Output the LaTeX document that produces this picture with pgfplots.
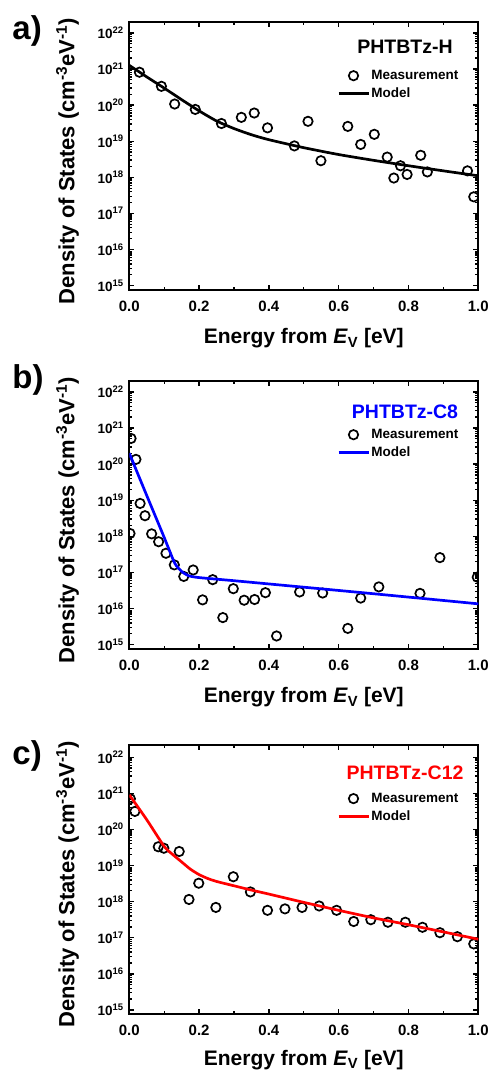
\documentclass[border=0pt]{standalone}
\usepackage{fontspec}
\setmainfont{Liberation Sans}
\usepackage{pgfplots}
\pgfplotsset{compat=1.18}
\definecolor{mblue}{RGB}{0,0,255}
\definecolor{mred}{RGB}{255,0,0}
\newcommand{\ep}[1]{10\raisebox{5.5pt}{\fontsize{9.5}{10}\selectfont #1}}
\pgfplotsset{
  legend image code/.code={\draw[mark repeat=2,mark phase=2,#1] plot coordinates {(0pt,0pt) (15pt,0pt) (30pt,0pt)};},
}
\pgfplotsset{
  dosaxis/.style={
    scale only axis, width=349pt, height=268pt,
    xmin=0, xmax=1, ymin=7.59e14, ymax=2.0e22,
    xtick={0,0.2,0.4,0.6,0.8,1.0},
    xticklabels={0.0,0.2,0.4,0.6,0.8,1.0},
    minor xtick={0.1,0.3,0.5,0.7,0.9},
    ytick={1e15,1e16,1e17,1e18,1e19,1e20,1e21,1e22},
    yticklabels={\ep{15},\ep{16},\ep{17},\ep{18},\ep{19},\ep{20},\ep{21},\ep{22}},
    tick align=inside, xtick pos=both, ytick pos=both,
    xticklabel pos=bottom, yticklabel pos=left,
    major tick length=5pt, minor tick length=3pt,
    every tick/.style={line width=1.3pt, black},
    axis line style={line width=2pt},
    xticklabel style={font=\bfseries\fontsize{15}{15}\selectfont, anchor=north, inner sep=0pt, yshift=-10.5pt},
    yticklabel style={font=\bfseries\fontsize{13.5}{14}\selectfont, anchor=east, inner sep=0pt, xshift=-6pt},
    clip marker paths=true,
    xlabel={Energy from \textit{E}\textsubscript{V} [eV]},
    ylabel={Density of States (cm\textsuperscript{-3}eV\textsuperscript{-1})},
    every axis x label/.style={at={(rel axis cs:0.5,0)}, anchor=base, yshift=-54pt, font=\bfseries\fontsize{21}{21}\selectfont},
    every axis y label/.style={at={(rel axis cs:0,0.481)}, xshift=-55pt, rotate=90, anchor=base, font=\bfseries\fontsize{22}{22}\selectfont},
    legend style={draw=none, fill=none, at={(rel axis cs:0.595,0.826)}, anchor=north west,
      font=\bfseries\fontsize{13.5}{15}\selectfont, row sep=4pt, inner sep=0pt,
      nodes={inner sep=1.5pt}},
    legend cell align=left,
  },
  meas/.style={only marks, mark=o, mark size=4.7pt, mark options={line width=1.7pt, black}},
  model/.style={line width=2.7pt, smooth, tension=0.4, no marks},
}
\begin{document}
\begin{tikzpicture}
\useasboundingbox (0,0) rectangle (493pt,1071pt);
% ---------- a ----------
\begin{axis}[ymode=log, dosaxis, name=axA, at={(129.3pt,781pt)}, anchor=south west]
\addplot[meas] coordinates {(0.029,8.13e20)(0.092,3.31e20)(0.130,1.07e20)(0.189,7.59e19)(0.264,3.09e19)(0.321,4.57e19)(0.358,6.03e19)(0.396,2.34e19)(0.473,7.41e18)(0.512,3.55e19)(0.549,2.88e18)(0.626,2.57e19)(0.663,8.13e18)(0.702,1.55e19)(0.739,3.63e18)(0.758,9.55e17)(0.777,2.09e18)(0.796,1.20e18)(0.835,4.07e18)(0.854,1.41e18)(0.969,1.51e18)(0.987,2.88e17)};
\addlegendentry{Measurement}
\addplot[model, black] coordinates {(0,1.26e21)(0.05,6.03e20)(0.1,2.95e20)(0.15,1.41e20)(0.2,6.92e19)(0.25,3.63e19)(0.3,2.24e19)(0.35,1.51e19)(0.4,1.10e19)(0.5,6.61e18)(0.6,4.27e18)(0.7,2.95e18)(0.8,2.09e18)(0.9,1.51e18)(1.0,1.10e18)};
\addlegendentry{Model}
\node[anchor=base, font=\bfseries\fontsize{19.5}{20}\selectfont] at (rel axis cs:0.79,0.883) {PHTBTz-H};
\end{axis}
\node[anchor=base west, font=\bfseries\fontsize{33}{33}\selectfont, inner sep=0pt, xshift=-117pt, yshift=-17.8pt] at (axA.north west) {a)};
% ---------- b ----------
\begin{axis}[ymode=log, dosaxis, name=axB, at={(129.3pt,422pt)}, anchor=south west]
\addplot[meas] coordinates {(0.005,5.13e20)(0.019,1.35e20)(0.002,1.20e18)(0.031,8.13e18)(0.045,3.72e18)(0.064,1.17e18)(0.084,7.08e17)(0.105,3.39e17)(0.129,1.62e17)(0.156,7.76e16)(0.183,1.17e17)(0.210,1.74e16)(0.239,6.31e16)(0.268,5.62e15)(0.298,3.55e16)(0.329,1.70e16)(0.359,1.78e16)(0.390,2.75e16)(0.422,1.74e15)(0.488,2.88e16)(0.554,2.69e16)(0.626,2.82e15)(0.663,1.95e16)(0.715,3.98e16)(0.833,2.63e16)(0.890,2.57e17)(0.997,7.41e16)};
\addlegendentry{Measurement}
\addplot[model, mblue] coordinates {(0,2.0e20)(0.05,1.35e19)(0.10,9.3e17)(0.13,1.82e17)(0.15,1.07e17)(0.17,8.1e16)(0.20,7.2e16)(0.3,5.9e16)(0.5,3.9e16)(0.7,2.57e16)(1.0,1.35e16)};
\addlegendentry{Model}
\node[anchor=base, text=mblue, font=\bfseries\fontsize{19.5}{20}\selectfont] at (rel axis cs:0.79,0.861) {PHTBTz-C8};
\end{axis}
\node[anchor=base west, font=\bfseries\fontsize{33}{33}\selectfont, inner sep=0pt, xshift=-117pt, yshift=-8pt] at (axB.north west) {b)};
% ---------- c ----------
\begin{axis}[ymode=log, dosaxis, name=axC, at={(129.3pt,56.7pt)}, anchor=south west, height=269.7pt, ymax=2.24e22,
  every axis x label/.append style={yshift=3pt}]
\addplot[meas] coordinates {(0.003,7.08e20)(0.016,3.16e20)(0.083,3.31e19)(0.099,3.02e19)(0.143,2.45e19)(0.171,1.15e18)(0.199,3.24e18)(0.248,6.92e17)(0.298,4.90e18)(0.347,1.86e18)(0.396,5.75e17)(0.446,6.31e17)(0.495,6.92e17)(0.544,7.59e17)(0.594,5.75e17)(0.643,2.82e17)(0.692,3.16e17)(0.741,2.69e17)(0.791,2.69e17)(0.840,1.95e17)(0.890,1.38e17)(0.940,1.07e17)(0.987,6.76e16)};
\addlegendentry{Measurement}
\addplot[model, mred] coordinates {(0,9.1e20)(0.05,1.86e20)(0.1,3.39e19)(0.125,2.0e19)(0.15,1.26e19)(0.175,7.94e18)(0.2,5.62e18)(0.225,4.37e18)(0.25,3.63e18)(0.3,2.75e18)(0.35,2.09e18)(0.4,1.62e18)(0.5,9.55e17)(0.6,5.75e17)(0.7,3.55e17)(0.8,2.29e17)(0.9,1.45e17)(1.0,9.1e16)};
\addlegendentry{Model}
\node[anchor=base, text=mred, font=\bfseries\fontsize{19.5}{20}\selectfont] at (rel axis cs:0.79,0.872) {PHTBTz-C12};
\end{axis}
\node[anchor=base west, font=\bfseries\fontsize{33}{33}\selectfont, inner sep=0pt, xshift=-117pt, yshift=-20.2pt] at (axC.north west) {c)};
\end{tikzpicture}
\end{document}
